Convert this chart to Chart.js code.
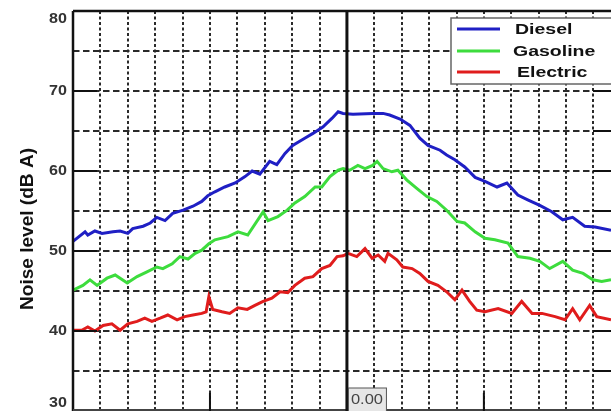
<!DOCTYPE html>
<html>
<head>
<meta charset="utf-8">
<script src="https://cdn.jsdelivr.net/npm/chart.js@4/dist/chart.umd.min.js"></script>
<style>
  html, body { margin: 0; padding: 0; background: #fff; }
  #wrap { width: 611px; height: 411px; }
</style>
</head>
<body>
<div id="wrap"><canvas id="chart"></canvas></div>
<script>
// time in seconds relative to pass-by (0.00), level in dB A
const dieselTime = [-5.00, -4.78, -4.73, -4.60, -4.47, -4.27, -4.14, -4.00, -3.91, -3.72, -3.59, -3.47, -3.32, -3.18, -2.99, -2.81, -2.65, -2.54, -2.41, -2.23, -2.04, -1.86, -1.73, -1.59, -1.41, -1.28, -1.13, -0.99, -0.77, -0.62, -0.44, -0.27, -0.16, -0.07, 0.11, 0.47, 0.66, 0.78, 0.97, 1.15, 1.33, 1.48, 1.70, 1.82, 1.97, 2.15, 2.34, 2.52, 2.74, 2.92, 3.12, 3.30, 3.52, 3.74, 3.94, 4.12, 4.34, 4.53, 4.82];
const dieselLevel = [51.2, 52.4, 52.0, 52.5, 52.2, 52.4, 52.5, 52.2, 52.8, 53.1, 53.5, 54.2, 53.8, 54.7, 55.1, 55.6, 56.2, 56.9, 57.4, 58.0, 58.5, 59.3, 60.0, 59.6, 61.2, 60.8, 62.2, 63.2, 64.1, 64.7, 65.5, 66.6, 67.4, 67.2, 67.1, 67.2, 67.2, 67.0, 66.5, 65.7, 64.1, 63.2, 62.6, 62.0, 61.4, 60.5, 59.2, 58.7, 58.0, 58.5, 57.0, 56.4, 55.7, 54.9, 53.9, 54.2, 53.1, 53.0, 52.6];

const gasolineTime = [-5.00, -4.82, -4.69, -4.56, -4.38, -4.23, -4.01, -3.83, -3.65, -3.47, -3.36, -3.19, -3.05, -2.90, -2.77, -2.65, -2.52, -2.41, -2.17, -1.99, -1.81, -1.53, -1.44, -1.26, -1.09, -0.95, -0.77, -0.58, -0.46, -0.31, -0.16, -0.07, 0.05, 0.20, 0.33, 0.47, 0.55, 0.66, 0.82, 0.93, 1.09, 1.28, 1.46, 1.64, 1.82, 2.01, 2.15, 2.34, 2.52, 2.70, 2.94, 3.12, 3.34, 3.52, 3.70, 3.94, 4.12, 4.31, 4.49, 4.65, 4.82];
const gasolineLevel = [45.1, 45.7, 46.4, 45.7, 46.6, 47.0, 46.0, 46.8, 47.4, 48.0, 47.8, 48.4, 49.3, 49.0, 49.7, 50.1, 50.9, 51.4, 51.8, 52.4, 52.0, 54.9, 53.8, 54.3, 55.1, 56.0, 56.8, 58.0, 58.0, 59.3, 60.1, 60.3, 60.1, 60.7, 60.3, 60.7, 61.2, 60.3, 59.9, 60.1, 58.9, 57.8, 56.8, 56.2, 55.1, 53.7, 53.5, 52.4, 51.6, 51.4, 51.0, 49.3, 49.1, 48.7, 47.8, 48.7, 47.6, 47.2, 46.4, 46.2, 46.4];

const electricTime = [-5.00, -4.84, -4.73, -4.60, -4.45, -4.29, -4.14, -4.00, -3.83, -3.69, -3.56, -3.41, -3.27, -3.10, -2.96, -2.81, -2.65, -2.57, -2.52, -2.45, -2.28, -2.14, -1.99, -1.82, -1.68, -1.53, -1.37, -1.22, -1.08, -0.95, -0.77, -0.62, -0.46, -0.31, -0.18, -0.07, 0.02, 0.18, 0.33, 0.46, 0.57, 0.69, 0.75, 0.91, 1.02, 1.19, 1.33, 1.48, 1.66, 1.82, 1.97, 2.10, 2.24, 2.37, 2.52, 2.76, 3.01, 3.19, 3.38, 3.56, 3.80, 3.98, 4.12, 4.25, 4.43, 4.56, 4.82];
const electricLevel = [40.1, 40.1, 40.5, 40.0, 40.7, 40.9, 40.1, 40.9, 41.2, 41.6, 41.2, 41.6, 42.0, 41.4, 41.8, 42.0, 42.2, 42.4, 44.3, 42.7, 42.4, 42.2, 42.9, 42.7, 43.2, 43.7, 44.1, 44.9, 44.8, 45.7, 46.6, 46.8, 47.8, 48.2, 49.3, 49.4, 49.7, 49.3, 50.3, 49.1, 49.5, 48.7, 49.7, 48.9, 48.0, 47.8, 47.2, 46.2, 45.7, 44.9, 43.9, 45.1, 43.7, 42.6, 42.4, 42.8, 42.2, 43.7, 42.2, 42.2, 41.8, 41.4, 42.8, 41.4, 43.2, 41.8, 41.4];

const seriesNames = ["Diesel", "Gasoline", "Electric"];
const seriesColors = ["#1f1fc4", "#3ddc3d", "#e01c1c"];
const yTickLabels = [30, 40, 50, 60, 70, 80];
const yTitle = "Noise level (dB A)";
const zeroLabel = "0.00";

function points(times, levels) {
    return times.map((t, i) => ({ x: t, y: levels[i] }));
}

const decor = {
    id: "decor",
    afterDatasetsDraw(chart) {
        const ctx = chart.ctx;
        const area = chart.chartArea;
        const xs = chart.scales.x;
        const ys = chart.scales.y;
        ctx.save();
        ctx.strokeStyle = "#111";
        ctx.lineCap = "butt";

        // frame: left axis, top and bottom border
        ctx.lineWidth = 2.5;
        ctx.beginPath();
        ctx.moveTo(area.left, area.top);
        ctx.lineTo(area.left, area.bottom);
        ctx.moveTo(area.left, area.top);
        ctx.lineTo(area.right, area.top);
        ctx.stroke();
        ctx.lineWidth = 2;
        ctx.strokeStyle = "#444";
        ctx.beginPath();
        ctx.moveTo(area.left, area.bottom - 1);
        ctx.lineTo(area.right, area.bottom - 1);
        ctx.stroke();
        ctx.strokeStyle = "#111";

        // major ticks
        ctx.lineWidth = 2;
        ctx.beginPath();
        [40, 50, 60, 70].forEach(v => {
            const y = ys.getPixelForValue(v);
            ctx.moveTo(area.left, y);
            ctx.lineTo(area.left + 24, y);
        });
        for (let v = 35; v < 80; v += 5) {
            const y = ys.getPixelForValue(v);
            ctx.moveTo(area.right - 18, y);
            ctx.lineTo(area.right, y);
        }
        [-2.5, 2.5].forEach(t => {
            const xt = xs.getPixelForValue(t);
            ctx.moveTo(xt, area.bottom - 18);
            ctx.lineTo(xt, area.bottom);
        });
        ctx.stroke();

        // pass-by line
        const x0 = xs.getPixelForValue(0);
        ctx.lineWidth = 3;
        ctx.beginPath();
        ctx.moveTo(x0, area.top);
        ctx.lineTo(x0, area.bottom);
        ctx.stroke();

        // 0.00 label box
        ctx.fillStyle = "#e6e6e6";
        ctx.strokeStyle = "#555";
        ctx.lineWidth = 1;
        ctx.fillRect(x0 + 1.5, area.bottom - 23, 38, 26);
        ctx.strokeRect(x0 + 1.5, area.bottom - 23, 38, 26);
        ctx.fillStyle = "#444";
        ctx.font = "15px 'Liberation Sans', Arial, sans-serif";
        ctx.textBaseline = "middle";
        ctx.textAlign = "left";
        ctx.save();
        ctx.translate(x0 + 4, area.bottom - 11);
        ctx.scale(1.1, 1);
        ctx.fillText(zeroLabel, 0, 0);
        ctx.restore();

        // legend
        const lx = 451, ly = 18;
        ctx.fillStyle = "#fff";
        ctx.fillRect(lx, ly, 200, 66);
        ctx.strokeStyle = "#666";
        ctx.lineWidth = 1.5;
        ctx.strokeRect(lx, ly, 200, 66);
        const rows = [29, 51, 72];
        const textX = [515, 513, 517];
        chart.data.datasets.forEach((ds, i) => {
            ctx.strokeStyle = ds.borderColor;
            ctx.lineWidth = 3;
            ctx.beginPath();
            ctx.moveTo(457, rows[i]);
            ctx.lineTo(500, rows[i]);
            ctx.stroke();
            ctx.save();
            ctx.translate(textX[i], rows[i] + 1);
            ctx.scale(1.3, 1);
            ctx.fillStyle = "#111";
            ctx.font = "bold 15px 'Liberation Sans', Arial, sans-serif";
            ctx.fillText(ds.label, 0, 0);
            ctx.restore();
        });

        // y tick labels
        ctx.fillStyle = "#333";
        ctx.font = "bold 14px 'Liberation Sans', Arial, sans-serif";
        ctx.textAlign = "right";
        yTickLabels.forEach(v => {
            let y = ys.getPixelForValue(v);
            y = Math.min(Math.max(y, area.top + 8), area.bottom - 8);
            ctx.save();
            ctx.translate(67, y);
            ctx.scale(1.15, 1);
            ctx.fillText(String(v), 0, 0);
            ctx.restore();
        });

        // y axis title
        ctx.save();
        ctx.translate(28, 229);
        ctx.rotate(-Math.PI / 2);
        ctx.font = "bold 18px 'Liberation Sans', Arial, sans-serif";
        ctx.textAlign = "center";
        ctx.fillStyle = "#111";
        const w = ctx.measureText(yTitle).width;
        ctx.scale(162 / w, 1);
        ctx.fillText(yTitle, 0, 0);
        ctx.restore();

        ctx.restore();
    }
};

new Chart(document.getElementById("chart"), {
    type: "line",
    data: {
        datasets: [
            { label: seriesNames[0], data: points(dieselTime, dieselLevel), borderColor: seriesColors[0] },
            { label: seriesNames[1], data: points(gasolineTime, gasolineLevel), borderColor: seriesColors[1] },
            { label: seriesNames[2], data: points(electricTime, electricLevel), borderColor: seriesColors[2] }
        ]
    },
    options: {
        responsive: true,
        maintainAspectRatio: false,
        animation: false,
        layout: { padding: { top: 11, left: 0, right: 0, bottom: 0 } },
        elements: {
            line: { borderWidth: 3, tension: 0 },
            point: { radius: 0 }
        },
        plugins: {
            legend: { display: false },
            tooltip: { enabled: false }
        },
        scales: {
            x: {
                type: "linear",
                min: -5,
                max: 4.82,
                ticks: { display: false, stepSize: 0.5, includeBounds: false },
                grid: {
                    color: c => (c.tick && c.tick.value === 0 ? "rgba(0,0,0,0)" : "#2a2a2a"),
                    lineWidth: 2,
                    drawTicks: false
                },
                border: { display: false, dash: [3, 2.5] },
                afterFit: s => { s.height = 0; }
            },
            y: {
                min: 30,
                max: 80,
                ticks: { display: false, stepSize: 5 },
                grid: { color: "#2a2a2a", lineWidth: 2, drawTicks: false },
                border: { display: false, dash: [6.5, 3.5] },
                afterFit: s => { s.width = 73; }
            }
        }
    },
    plugins: [decor]
});
</script>
</body>
</html>
